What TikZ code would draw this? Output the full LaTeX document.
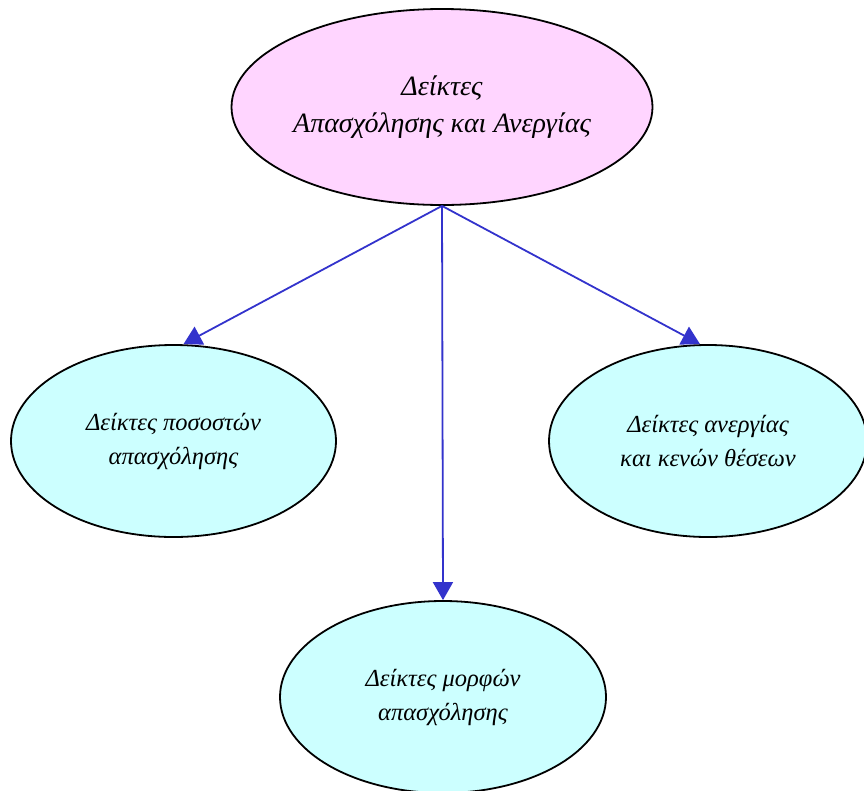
\documentclass[tikz,border=0pt]{standalone}
\usepackage{fontspec}
\setmainfont{Liberation Serif}
\usetikzlibrary{shapes.geometric,arrows.meta}
\definecolor{pinkfill}{HTML}{FFD5FF}
\definecolor{cyanfill}{HTML}{CCFFFF}
\definecolor{edgeblue}{HTML}{3333CC}
\begin{document}
\begin{tikzpicture}[x=1pt,y=-1pt,
  bubble/.style={ellipse, draw=black, line width=1.8pt, align=center,
    font=\fontsize{28}{37}\selectfont\itshape, inner sep=0pt},
  childtext/.style={font=\fontsize{24.5}{34}\selectfont\itshape},
  link/.style={draw=edgeblue, line width=1.8pt, -{Triangle[width=20pt,length=18pt]}}]
\useasboundingbox (0,0) rectangle (864,790);
\node[bubble, fill=pinkfill, minimum width=415pt, minimum height=196pt] (top) at (442,107)
  {Δείκτες\\Απασχόλησης και Ανεργίας};
\node[bubble, childtext, fill=cyanfill, minimum width=325pt, minimum height=192pt] (left) at (173.5,441)
  {Δείκτες ποσοστών\\απασχόλησης};
\node[bubble, childtext, fill=cyanfill, minimum width=318pt, minimum height=192pt] (right) at (708,441)
  {Δείκτες ανεργίας\\και κενών θέσεων};
\node[bubble, childtext, fill=cyanfill, minimum width=326pt, minimum height=192pt] (bottom) at (443,697)
  {Δείκτες μορφών\\απασχόλησης};
\draw[link] (top.south) -- ([xshift=10pt]left.north);
\draw[link] (top.south) -- ([xshift=-8pt]right.north);
\draw[link] (top.south) -- (bottom.north);
\end{tikzpicture}
\end{document}
